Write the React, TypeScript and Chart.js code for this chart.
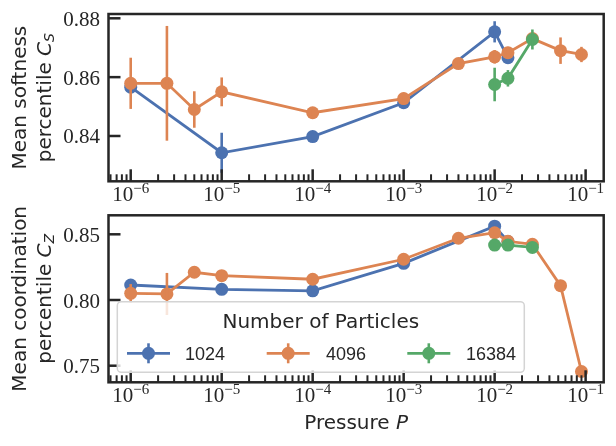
import { useEffect, useRef } from "react"
import { Chart, registerables } from "chart.js"
import type { Plugin } from "chart.js"

Chart.register(...registerables)

const W = 616
const H = 446

const BLUE = "#4C72B0"
const ORANGE = "#DD8452"
const GREEN = "#55A868"
const INK = "#262626"

// Pressure values for each system size
const pressures1024 = [1e-6, 1e-5, 1e-4, 1e-3, 1e-2, 1.4e-2]
const pressures4096 = [1e-6, 2.5e-6, 5e-6, 1e-5, 1e-4, 1e-3, 4e-3, 1e-2, 1.4e-2, 2.6e-2, 5.3e-2, 9e-2]
const pressures16384 = [1e-2, 1.4e-2, 2.6e-2]

// Mean softness percentile C_S
const softness1024 = [0.8566, 0.8343, 0.8398, 0.8513, 0.8754, 0.8666]
const softnessErr1024 = [0.002, 0.0068, 0.001, 0.001, 0.0036, 0.002]
const softness4096 = [0.8579, 0.8579, 0.849, 0.855, 0.8479, 0.8527, 0.8646, 0.8669, 0.8683, 0.8731, 0.869, 0.8677]
const softnessErr4096 = [0.0087, 0.0195, 0.0062, 0.0049, 0.001, 0.002, 0.001, 0.0023, 0.002, 0.002, 0.0045, 0.0026]
const softness16384 = [0.8575, 0.8596, 0.8728]
const softnessErr16384 = [0.0057, 0.0028, 0.0034]

// Mean coordination percentile C_Z
const coord1024 = [0.8114, 0.8081, 0.807, 0.8279, 0.8562, 0.8445]
const coordErr1024 = [0.003, 0.001, 0.001, 0.001, 0.002, 0.001]
const coord4096 = [0.8051, 0.8046, 0.8211, 0.8185, 0.8158, 0.831, 0.847, 0.8512, 0.8447, 0.8424, 0.8109, 0.7456]
const coordErr4096 = [0.007, 0.016, 0.001, 0.001, 0.001, 0.001, 0.001, 0.002, 0.001, 0.001, 0.001, 0.001]
const coord16384 = [0.8418, 0.8418, 0.84]
const coordErr16384 = [0.002, 0.002, 0.002]

// Axis ticks
const xDecades = [1e-6, 1e-5, 1e-4, 1e-3, 1e-2, 1e-1]
const xExponents = ["6", "5", "4", "3", "2", "1"]
const yTicksSoftness = [0.84, 0.86, 0.88]
const yTicksCoord = [0.75, 0.8, 0.85]

const legendTitle = "Number of Particles"
const legendLabels = ["1024", "4096", "16384"]
const legendColors = [BLUE, ORANGE, GREEN]

const X_MIN = 5.7e-7
const X_MAX = 0.158

const SANS = "'DejaVu Sans'"
const SERIF = "'Liberation Serif'"

type Part = { text: string; font: string; dy?: number }

function drawParts(ctx: CanvasRenderingContext2D, parts: Part[], x: number, y: number, align: "left" | "center" | "right") {
  let total = 0
  const widths = parts.map((p) => {
    ctx.font = p.font
    const w = ctx.measureText(p.text).width
    total += w
    return w
  })
  let cx = align === "center" ? x - total / 2 : align === "right" ? x - total : x
  ctx.textAlign = "left"
  ctx.textBaseline = "alphabetic"
  parts.forEach((p, i) => {
    ctx.font = p.font
    ctx.fillText(p.text, cx, y + (p.dy ?? 0))
    cx += widths[i]
  })
}

function series(label: string, xs: number[], ys: number[], errs: number[], color: string, order: number) {
  return {
    label,
    data: xs.map((x, i) => ({ x, y: ys[i] })),
    errors: errs,
    borderColor: color,
    backgroundColor: color,
    pointBackgroundColor: color,
    pointBorderWidth: 0,
    pointRadius: 6.5,
    pointHoverRadius: 6.5,
    borderWidth: 2.8,
    tension: 0,
    order,
    clip: false as const,
  }
}

const errorBars: Plugin<"line"> = {
  id: "errorBars",
  afterDatasetDraw(chart, args) {
    const ds = chart.data.datasets[args.index] as any
    const yScale = chart.scales.y
    const ctx = chart.ctx
    ctx.save()
    ctx.strokeStyle = ds.borderColor
    ctx.lineWidth = 2.6
    args.meta.data.forEach((pt: any, i: number) => {
      const v = ds.data[i].y
      const e = ds.errors[i]
      ctx.beginPath()
      ctx.moveTo(pt.x, yScale.getPixelForValue(v - e))
      ctx.lineTo(pt.x, yScale.getPixelForValue(v + e))
      ctx.stroke()
    })
    ctx.restore()
  },
}

interface PanelConfig {
  yTicks: number[]
  yTickText: string[]
  yLines: Part[][]
  xTitle: boolean
  legend: boolean
}

function axesPlugin(cfg: PanelConfig): Plugin<"line"> {
  return {
    id: "axesFrame",
    afterDraw(chart) {
      const ctx = chart.ctx
      const { left, right, top, bottom } = chart.chartArea
      const xs = chart.scales.x
      const ys = chart.scales.y
      ctx.save()
      ctx.strokeStyle = INK
      ctx.fillStyle = INK

      // x ticks (inward), major + minor
      for (let d = -7; d <= -1; d++) {
        for (let m = 1; m <= 9; m++) {
          const v = m * Math.pow(10, d)
          if (v < X_MIN || v > X_MAX) continue
          const px = xs.getPixelForValue(v)
          const len = m === 1 ? 12 : 7
          ctx.lineWidth = m === 1 ? 2.5 : 2
          ctx.beginPath()
          ctx.moveTo(px, bottom)
          ctx.lineTo(px, bottom - len)
          ctx.stroke()
        }
      }
      // y ticks (inward)
      ctx.lineWidth = 2.5
      cfg.yTicks.forEach((v) => {
        const py = ys.getPixelForValue(v)
        ctx.beginPath()
        ctx.moveTo(left, py)
        ctx.lineTo(left + 12, py)
        ctx.stroke()
      })

      // frame
      ctx.lineWidth = 2.5
      ctx.strokeRect(left, top, right - left, bottom - top)

      // x tick labels 10^{-n}
      xDecades.forEach((v, i) => {
        const px = xs.getPixelForValue(v)
        drawParts(
          ctx,
          [
            { text: "10", font: `21px ${SERIF}` },
            { text: "\u2212" + xExponents[i], font: `15px ${SERIF}`, dy: -8.5 },
          ],
          px,
          bottom + 20,
          "center"
        )
      })

      // y tick labels
      cfg.yTicks.forEach((v, i) => {
        const py = ys.getPixelForValue(v)
        drawParts(ctx, [{ text: cfg.yTickText[i], font: `21px ${SERIF}` }], 100, py + 7.5, "right")
      })

      // y axis title (two lines, rotated)
      const cy = (top + bottom) / 2
      const baselines = [26, 51]
      cfg.yLines.forEach((parts, i) => {
        ctx.save()
        ctx.translate(baselines[i], cy)
        ctx.rotate(-Math.PI / 2)
        drawParts(ctx, parts, 0, 0, "center")
        ctx.restore()
      })

      if (cfg.xTitle) {
        drawParts(
          ctx,
          [
            { text: "Pressure ", font: `20px ${SANS}` },
            { text: "P", font: `italic 20px ${SANS}` },
          ],
          (left + right) / 2,
          429,
          "center"
        )
      }

      if (cfg.legend) {
        // legend box
        const lx = 117.3
        const ly = 301.7
        const lw = 407
        const lh = 70.6
        ctx.beginPath()
        ctx.roundRect(lx, ly, lw, lh, 4)
        ctx.fillStyle = "rgba(255,255,255,0.8)"
        ctx.fill()
        ctx.strokeStyle = "#d4d4d4"
        ctx.lineWidth = 1.5
        ctx.stroke()

        ctx.fillStyle = INK
        drawParts(ctx, [{ text: legendTitle, font: `20px ${SANS}` }], lx + lw / 2, 328, "center")

        const handleStarts = [127, 266.7, 407.3]
        const labelStarts = [185, 326, 466]
        const hy = 353.3
        legendLabels.forEach((lab, i) => {
          const c = legendColors[i]
          const x0 = handleStarts[i]
          const x1 = x0 + 43
          const mx = (x0 + x1) / 2
          ctx.strokeStyle = c
          ctx.fillStyle = c
          ctx.lineWidth = 2.8
          ctx.beginPath()
          ctx.moveTo(x0, hy)
          ctx.lineTo(x1, hy)
          ctx.stroke()
          ctx.lineWidth = 2.6
          ctx.beginPath()
          ctx.moveTo(mx, hy - 10)
          ctx.lineTo(mx, hy + 10)
          ctx.stroke()
          ctx.beginPath()
          ctx.arc(mx, hy, 6.5, 0, Math.PI * 2)
          ctx.fill()
          ctx.fillStyle = INK
          drawParts(ctx, [{ text: lab, font: `18px 'Liberation Sans'` }], labelStarts[i], 360, "left")
        })
      }
      ctx.restore()
    },
  }
}

function makePanel(
  canvas: HTMLCanvasElement,
  area: { left: number; top: number; right: number; bottom: number },
  yMin: number,
  yMax: number,
  datasets: any[],
  cfg: PanelConfig
) {
  return new Chart(canvas, {
    type: "line",
    data: { datasets },
    options: {
      responsive: false,
      maintainAspectRatio: false,
      animation: false,
      events: [],
      layout: {
        padding: { left: area.left, top: area.top, right: W - area.right, bottom: H - area.bottom },
      },
      scales: {
        x: { type: "logarithmic", min: X_MIN, max: X_MAX, display: false },
        y: { type: "linear", min: yMin, max: yMax, display: false },
      },
      plugins: { legend: { display: false }, tooltip: { enabled: false } },
    },
    plugins: [errorBars, axesPlugin(cfg)],
  })
}

export default function App() {
  const topRef = useRef<HTMLCanvasElement>(null)
  const bottomRef = useRef<HTMLCanvasElement>(null)

  useEffect(() => {
    if (!topRef.current || !bottomRef.current) return
    const charts: Chart[] = []

    charts.push(
      makePanel(
        topRef.current,
        { left: 108.5, top: 14, right: 603.7, bottom: 181.3 },
        0.8246,
        0.88146,
        [
          series("1024", pressures1024, softness1024, softnessErr1024, BLUE, 3),
          series("4096", pressures4096, softness4096, softnessErr4096, ORANGE, 2),
          series("16384", pressures16384, softness16384, softnessErr16384, GREEN, 1),
        ],
        {
          yTicks: yTicksSoftness,
          yTickText: ["0.84", "0.86", "0.88"],
          yLines: [
            [{ text: "Mean softness", font: `20px ${SANS}` }],
            [
              { text: "percentile ", font: `20px ${SANS}` },
              { text: "C", font: `italic 20px ${SANS}` },
              { text: "S", font: `italic 14px ${SANS}`, dy: 3 },
            ],
          ],
          xTitle: false,
          legend: false,
        }
      )
    )

    charts.push(
      makePanel(
        bottomRef.current,
        { left: 108.5, top: 215.3, right: 603.7, bottom: 382.3 },
        0.73737,
        0.86446,
        [
          series("1024", pressures1024, coord1024, coordErr1024, BLUE, 3),
          series("4096", pressures4096, coord4096, coordErr4096, ORANGE, 2),
          series("16384", pressures16384, coord16384, coordErr16384, GREEN, 1),
        ],
        {
          yTicks: yTicksCoord,
          yTickText: ["0.75", "0.80", "0.85"],
          yLines: [
            [{ text: "Mean coordination", font: `20px ${SANS}` }],
            [
              { text: "percentile ", font: `20px ${SANS}` },
              { text: "C", font: `italic 20px ${SANS}` },
              { text: "Z", font: `italic 14px ${SANS}`, dy: 3 },
            ],
          ],
          xTitle: true,
          legend: true,
        }
      )
    )

    return () => charts.forEach((c) => c.destroy())
  }, [])

  const canvasStyle = { position: "absolute" as const, left: 0, top: 0, width: W, height: H }
  return (
    <div style={{ position: "fixed", left: 0, top: 0, width: W, height: H, background: "#fff" }}>
      <canvas ref={topRef} width={W} height={H} style={canvasStyle} />
      <canvas ref={bottomRef} width={W} height={H} style={canvasStyle} />
    </div>
  )
}
